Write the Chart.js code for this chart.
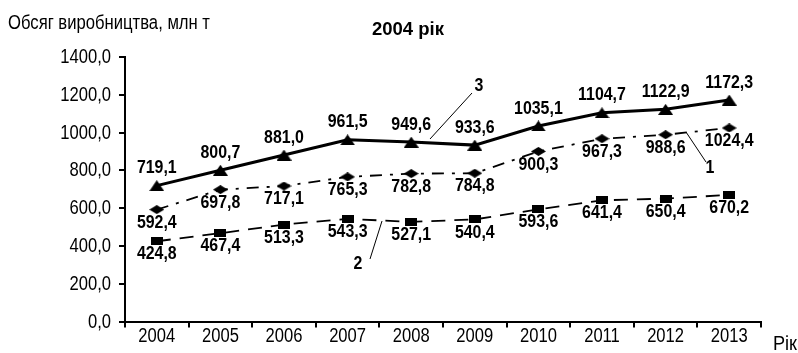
<!DOCTYPE html>
<html>
<head>
<meta charset="utf-8">
<script src="https://cdn.jsdelivr.net/npm/chart.js@4/dist/chart.umd.min.js"></script>
<style>
  html, body { margin: 0; padding: 0; background: #fff; }
  #wrap { width: 798px; height: 353px; }
</style>
</head>
<body>
<div id="wrap"><canvas id="prodChart" width="798" height="353"></canvas></div>
<script>
// обсяг виробництва по роках, млн т
const years = ['2004', '2005', '2006', '2007', '2008', '2009', '2010', '2011', '2012', '2013'];
const series3 = [719.1, 800.7, 881.0, 961.5, 949.6, 933.6, 1035.1, 1104.7, 1122.9, 1172.3];
const series1 = [592.4, 697.8, 717.1, 765.3, 782.8, 784.8, 900.3, 967.3, 988.6, 1024.4];
const series2 = [424.8, 467.4, 513.3, 543.3, 527.1, 540.4, 593.6, 641.4, 650.4, 670.2];
const yTicks = [0, 200, 400, 600, 800, 1000, 1200, 1400];

const FONT = '"Liberation Sans", Arial, sans-serif';
const fmt = v => v.toFixed(1).replace('.', ',');

// вузький шрифт імітуємо стисканням по горизонталі
function drawText(ctx, text, x, y, font, align, sx) {
    ctx.save();
    ctx.font = font;
    ctx.textAlign = align;
    ctx.textBaseline = 'alphabetic';
    ctx.translate(x, y);
    ctx.scale(sx, 1);
    ctx.fillText(text, 0, 0);
    ctx.restore();
}
function fitText(ctx, text, x, y, font, align, width) {
    ctx.save();
    ctx.font = font;
    const w = ctx.measureText(text).width;
    ctx.restore();
    drawText(ctx, text, x, y, font, align, width / w);
}

// маркери: трикутник, сплющений ромб, прямокутник
function marker(w, h, pts) {
    const c = document.createElement('canvas');
    c.width = w; c.height = h;
    const g = c.getContext('2d');
    g.fillStyle = '#000';
    g.beginPath();
    pts.forEach(([px, py], i) => i ? g.lineTo(px, py) : g.moveTo(px, py));
    g.closePath();
    g.fill();
    return c;
}
const triMark = marker(15, 11, [[0, 11], [7.5, 0], [15, 11]]);
const diaMark = marker(15, 9, [[0, 4.5], [7.5, 0], [15, 4.5], [7.5, 9]]);
const boxMark = marker(12, 8, [[0, 0], [12, 0], [12, 8], [0, 8]]);

const REG = '20.5px ' + FONT;
const BOLD = 'bold 18.5px ' + FONT;

// підписи осей
const axisText = {
    id: 'axisText',
    afterDraw(chart) {
        const ctx = chart.ctx;
        ctx.fillStyle = '#000';
        const x = chart.scales.x, y = chart.scales.y;
        y.ticks.forEach((t, i) => {
            drawText(ctx, fmt(t.value), 111, y.getPixelForTick(i) + 6, REG, 'right', 0.81);
        });
        x.ticks.forEach((t, i) => {
            drawText(ctx, chart.data.labels[i], x.getPixelForTick(i), 342, REG, 'center', 0.81);
        });
    }
};

// підписи значень біля точок
const valueLabels = {
    id: 'valueLabels',
    afterDatasetsDraw(chart) {
        const ctx = chart.ctx;
        ctx.fillStyle = '#000';
        chart.data.datasets.forEach((ds, i) => {
            chart.getDatasetMeta(i).data.forEach((pt, j) => {
                drawText(ctx, fmt(ds.data[j]), pt.x, pt.y + ds.labelDy + 6.6, BOLD, 'center', 0.86);
            });
        });
    }
};

// заголовки та виноски до ліній
const extras = {
    id: 'extras',
    afterDraw(chart) {
        const ctx = chart.ctx;
        ctx.fillStyle = '#000';
        fitText(ctx, 'Обсяг виробництва, млн т', 8, 28.5, REG, 'left', 202);
        fitText(ctx, 'Рік', 773, 350, REG, 'left', 24);
        fitText(ctx, '2004 рік', 408, 35, 'bold 18.5px ' + FONT, 'center', 72);

        drawText(ctx, '3', 479, 91, BOLD, 'center', 0.86);
        drawText(ctx, '1', 710, 173, BOLD, 'center', 0.86);
        drawText(ctx, '2', 358, 269, BOLD, 'center', 0.86);

        ctx.save();
        ctx.strokeStyle = '#000';
        ctx.lineWidth = 1;
        ctx.beginPath();
        ctx.moveTo(472, 93); ctx.lineTo(430, 139);
        ctx.moveTo(686, 132); ctx.lineTo(706, 162);
        ctx.moveTo(382, 221); ctx.lineTo(370, 259);
        ctx.stroke();
        ctx.restore();
    }
};

new Chart(document.getElementById('prodChart').getContext('2d'), {
    type: 'line',
    data: {
        labels: years,
        datasets: [
            {
                label: '3',
                data: series3,
                borderColor: '#000',
                borderWidth: 3,
                pointStyle: triMark,
                labelDy: -19,
            },
            {
                label: '1',
                data: series1,
                borderColor: '#000',
                borderWidth: 1.8,
                borderDash: [12, 8, 3, 8],
                pointStyle: diaMark,
                labelDy: 11.5,
            },
            {
                label: '2',
                data: series2,
                borderColor: '#000',
                borderWidth: 1.8,
                borderDash: [14, 9],
                pointStyle: boxMark,
                labelDy: 11.5,
            }
        ]
    },
    options: {
        responsive: false,
        animation: false,
        layout: { padding: { left: 0, right: 37, top: 57, bottom: 0 } },
        plugins: {
            legend: { display: false },
            tooltip: { enabled: false },
            title: { display: false }
        },
        scales: {
            x: {
                offset: true,
                afterFit: s => { s.height = 31.5; },
                grid: { offset: true, drawOnChartArea: false, drawTicks: true, tickLength: 6, color: '#000', lineWidth: 2 },
                border: { color: '#000', width: 2 },
                ticks: { display: false }
            },
            y: {
                min: 0,
                max: 1400,
                afterFit: s => { s.width = 125; },
                afterBuildTicks: s => { s.ticks = yTicks.map(v => ({ value: v })); },
                grid: { drawOnChartArea: false, drawTicks: true, tickLength: 6, color: '#000', lineWidth: 2 },
                border: { color: '#000', width: 2 },
                ticks: { display: false }
            }
        }
    },
    plugins: [valueLabels, axisText, extras]
});
</script>
</body>
</html>
